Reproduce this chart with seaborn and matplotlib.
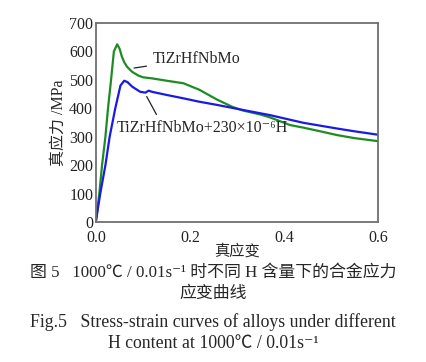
import numpy as np
import pandas as pd
import matplotlib
matplotlib.use("Agg")
import matplotlib.pyplot as plt
import seaborn as sns

# --- data ---
strain_base = [0, 0.007, 0.0128, 0.02, 0.0255, 0.032, 0.038, 0.045, 0.05, 0.055, 0.06, 0.066,
               0.077, 0.09, 0.1, 0.12, 0.15, 0.186, 0.22, 0.257, 0.29, 0.313, 0.35, 0.37,
               0.413, 0.441, 0.48, 0.512, 0.55, 0.597, 0.6]
stress_base = [5, 100, 200, 300, 400, 500, 600, 625, 610, 582, 562, 546,
               528, 515, 509, 505, 497, 488, 465, 431, 405, 392, 378, 368,
               341, 332, 318, 306, 295, 285, 284]

strain_h = [0, 0.009, 0.02, 0.029, 0.041, 0.052, 0.06, 0.067, 0.077, 0.094, 0.105, 0.112,
            0.119, 0.15, 0.186, 0.22, 0.257, 0.313, 0.37, 0.441, 0.512, 0.55, 0.6]
stress_h = [5, 100, 200, 300, 400, 480, 497, 492, 476, 458, 455, 462,
            458, 447, 435, 423, 412, 394, 376, 349, 329, 319, 307]

series_names = ["TiZrHfNbMo", "TiZrHfNbMo+230×10⁻⁶H"]
x_ticks = [0.0, 0.2, 0.4, 0.6]
y_ticks = [0, 100, 200, 300, 400, 500, 600, 700]

df = pd.concat([
    pd.DataFrame({"strain": strain_base, "stress": stress_base, "alloy": series_names[0]}),
    pd.DataFrame({"strain": strain_h, "stress": stress_h, "alloy": series_names[1]}),
])

sns.set_style("white")
fonts = ["Liberation Serif", "Noto Sans CJK SC", "DejaVu Serif"]
plt.rcParams["font.family"] = fonts

fig = plt.figure(figsize=(4.26, 3.62), dpi=100)
ax = fig.add_axes([0.2254, 0.3867, 0.662, 0.5498])

sns.lineplot(data=df, x="strain", y="stress", hue="alloy", sort=False,
             palette={series_names[0]: "#1e8c23", series_names[1]: "#1a1ae6"},
             linewidth=1.6, legend=False, ax=ax)

ax.set_xlim(0, 0.6)
ax.set_ylim(0, 700)
ax.set_xticks(x_ticks)
ax.set_xticklabels([f"{v:.1f}" for v in x_ticks])
ax.set_yticks(y_ticks)
ax.tick_params(direction="in", length=4, width=1, color="#555555",
               labelsize=11.5, colors="#222222")
ax.tick_params(axis="y", pad=2)
ax.tick_params(axis="x", pad=6)
for lab in ax.get_yticklabels():
    lab.set_verticalalignment("center_baseline")
for s in ax.spines.values():
    s.set_color("#707070")
    s.set_linewidth(1.3)

ax.set_xlabel("真应变", fontsize=11, labelpad=-2)
ax.set_ylabel("真应力 /MPa", fontsize=11.5, labelpad=2)

# curve labels with leader lines
ax.annotate(series_names[0], xy=(0.075, 540), xytext=(0.12, 575),
            fontsize=11.5, va="center", ha="left",
            arrowprops=dict(arrowstyle="-", color="#222222", lw=0.9))
ax.annotate(series_names[1], xy=(0.105, 450), xytext=(0.044, 330),
            fontsize=11.5, va="center", ha="left",
            arrowprops=dict(arrowstyle="-", color="#222222", lw=0.9,
                            relpos=(0.25, 1.0)))

# caption
fig.text(0.5, 0.246, "图 5   1000℃ / 0.01s⁻¹ 时不同 H 含量下的合金应力",
         ha="center", va="center", fontsize=12.2, family=fonts)
fig.text(0.5, 0.188, "应变曲线", ha="center", va="center", fontsize=12.2, family=fonts)
fig.text(0.5, 0.11, "Fig.5   Stress-strain curves of alloys under different",
         ha="center", va="center", fontsize=12.8, family=fonts)
fig.text(0.5, 0.052, "H content at 1000℃ / 0.01s⁻¹",
         ha="center", va="center", fontsize=12.8, family=fonts)

fig.savefig("out.png", dpi=100)
